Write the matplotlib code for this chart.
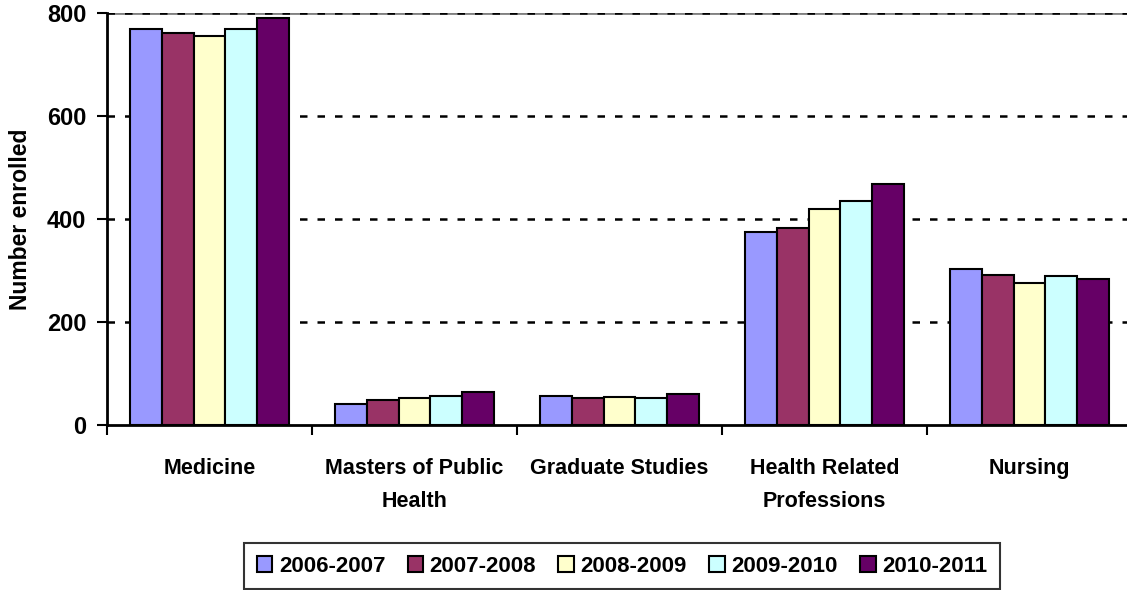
import numpy as np
from matplotlib import pyplot as plt

plt.rcParams['font.family'] = ['Liberation Sans', 'DejaVu Sans']
plt.rcParams['font.weight'] = 'bold'

categories = ['Medicine', 'Masters of Public\nHealth', 'Graduate Studies',
              'Health Related\nProfessions', 'Nursing']
years = ['2006-2007', '2007-2008', '2008-2009', '2009-2010', '2010-2011']
y0607 = [768, 41, 56, 375, 302]
y0708 = [761, 49, 52, 383, 292]
y0809 = [756, 52, 55, 419, 276]
y0910 = [768, 56, 52, 435, 289]
y1011 = [790, 64, 61, 467, 284]
series = [y0607, y0708, y0809, y0910, y1011]
colors = ['#9999FF', '#993366', '#FFFFCC', '#CCFFFF', '#660066']

fig = plt.figure(figsize=(11.27, 5.9), dpi=100)
ax = fig.add_axes([107/1127, 1 - 425/590, 1025/1127, 412/590])

x = np.arange(len(categories))
w = 0.155
for i, (vals, c) in enumerate(zip(series, colors)):
    ax.bar(x + (i - 2) * w, vals, w, color=c, edgecolor='black',
           linewidth=1.5, label=years[i], zorder=3)

ax.set_xlim(-0.5, 4.5)
ax.set_ylim(0, 800)
ax.set_yticks([0, 200, 400, 600, 800])
ax.axhline(800, color='#808080', lw=2, zorder=1)
for yv in [200, 400, 600, 800]:
    ax.axhline(yv, color='black', lw=1.8, ls=(0, (3, 4)), zorder=2)

ax.set_xticks(x)
ax.set_xticklabels(categories, fontsize=15.5, fontweight='bold', linespacing=1.75)
ax.set_xticks(np.arange(-0.5, 5, 1), minor=True)
ax.tick_params(axis='x', which='major', length=0, pad=24)
ax.tick_params(axis='x', which='minor', length=7, width=1.5, direction='out')
ax.tick_params(axis='y', length=7, width=1.5, labelsize=17, pad=8)

for s in ['top', 'right']:
    ax.spines[s].set_visible(False)
ax.spines['left'].set_linewidth(2)
ax.spines['bottom'].set_linewidth(2)

ax.set_ylabel('Number enrolled', fontsize=16.5, fontweight='bold')
ax.yaxis.set_label_coords(-0.073, 0.5)

leg = fig.legend(loc='center', bbox_to_anchor=(622/1127, 1 - 566/590), ncol=5,
                 frameon=True, fancybox=False, edgecolor='black',
                 prop={'size': 16, 'weight': 'bold'}, handlelength=0.7,
                 handleheight=0.7, handletextpad=0.3, columnspacing=1.0,
                 borderpad=0.55)
leg.get_frame().set_linewidth(1.5)

plt.savefig('out.png', dpi=100)
